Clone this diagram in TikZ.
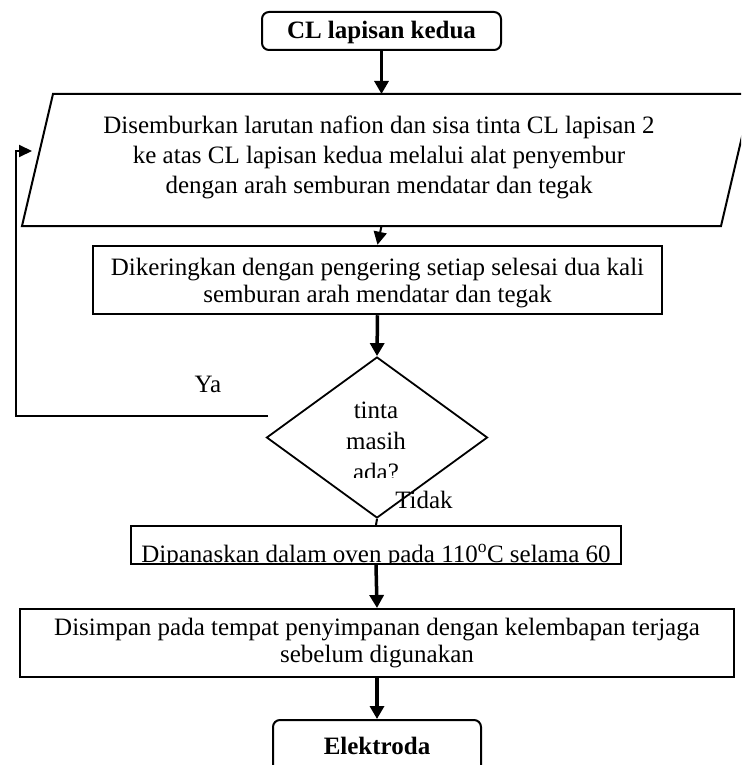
\documentclass[tikz,border=0pt]{standalone}
\usepackage{fontspec}
\setmainfont{Liberation Serif}
\usetikzlibrary{arrows.meta,shapes.geometric}

\begin{document}
\begin{tikzpicture}[x=1pt,y=-1pt,
  txt/.style={font=\fontsize{25}{29}\selectfont,align=center,inner sep=0pt},
  boldtxt/.style={font=\bfseries\fontsize{25}{29}\selectfont,inner sep=0pt},
  box/.style={draw,line width=2pt,inner sep=0pt},
  terminal/.style={box,rounded corners=7pt},
  flow/.style={-{Triangle[length=13pt,width=14pt]},line width=3.5pt},
  thinflow/.style={-{Triangle[length=13pt,width=13pt]},line width=2pt},
  link/.style={line width=2pt},
]
\useasboundingbox (0,0) rectangle (741,765);
\clip (0,0) rectangle (741,765);

% start terminal
\node[terminal,minimum width=239pt,minimum height=38pt] (start) at (381.5,31) {};
\node[boldtxt] (startLabel) at (381.5,32) {CL lapisan kedua};

% input/output parallelogram
\coordinate (pTL) at (53,94);
\coordinate (pTR) at (752,94);
\coordinate (pBR) at (721,226);
\coordinate (pBL) at (22,226);
\draw[link] (pTL) -- (pTR) -- (pBR) -- (pBL) -- cycle;
\coordinate (sprayTop) at (381.5,94);
\coordinate (sprayBot) at (381.5,226);
\coordinate (sprayIn) at (32,151);
\node[txt,font=\fontsize{25}{30}\selectfont] (spray) at (379,157)
  {Disemburkan larutan nafion dan sisa tinta CL lapisan 2\\
   ke atas CL lapisan kedua melalui alat penyembur\\
   dengan arah semburan mendatar dan tegak};

% drying step
\node[box,line width=2.5pt,minimum width=569pt,minimum height=68pt] (dry) at (377.5,280) {};
\node[txt,font=\fontsize{25}{27}\selectfont] (dryLabel) at (377.5,283)
  {Dikeringkan dengan pengering setiap selesai dua kali\\
   semburan arah mendatar dan tegak};

% decision
\node[draw,diamond,line width=1.8pt,inner sep=0pt,minimum width=221pt,minimum height=161pt] (dec) at (377,437.5) {};
\begin{scope}
  \clip (200,380) rectangle (560,477);
  \node[txt,font=\fontsize{25}{31}\selectfont] (decLabel) at (376,441) {tinta\\masih\\ada?};
\end{scope}
\node[txt] (ya) at (208,384) {Ya};
\node[txt] (tidak) at (424,500) {Tidak};

% oven step
\node[box,minimum width=490pt,minimum height=38pt] (oven) at (376,545) {};
\begin{scope}
  \clip (131,526) rectangle (621,564);
  \node[txt,anchor=base] (ovenLabel) at (376,562)
    {Dipanaskan dalam oven pada 110\textsuperscript{o}C selama 60};
\end{scope}

% storage step
\node[box,minimum width=714pt,minimum height=68pt] (store) at (377,643) {};
\node[txt,font=\fontsize{25}{27}\selectfont] (storeLabel) at (377,643)
  {Disimpan pada tempat penyimpanan dengan kelembapan terjaga\\
   sebelum digunakan};

% end terminal
\node[terminal,anchor=north,minimum width=208pt,minimum height=70pt] (finish) at (377,719) {};
\node[boldtxt] (finishLabel) at (377,746) {Elektroda};

% connectors
\draw[flow,line width=3pt] (start.south) -- (sprayTop);
\draw[thinflow] (sprayBot) -- (dry.north);
\draw[flow] (dry.south) -- (dec.north);
\draw[link] (dec.south) -- (oven.north);
\draw[flow] (oven.south) -- (store.north);
\draw[flow] (store.south) -- (finish.north);

% loop back
\coordinate (yaEnd) at (268,416);
\draw[link,-{Triangle[length=13pt,width=12pt]}] (yaEnd) -- (16,416) -- (16,151) -- (sprayIn);
\end{tikzpicture}
\end{document}
